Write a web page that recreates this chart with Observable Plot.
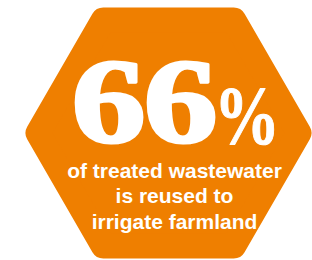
<!DOCTYPE html>
<html>
<head>
<meta charset="utf-8">
<script src="https://cdn.jsdelivr.net/npm/d3@7"></script>
<script src="https://cdn.jsdelivr.net/npm/@observablehq/plot@0.6"></script>
<style>
  html, body { margin: 0; padding: 0; background: #ffffff; }
  #chart svg { display: block; }
</style>
</head>
<body>
<div id="chart"></div>
<script>
// Data
const shareValue = [66];
const unitLabel = ["%"];
const captionLines = ["of treated wastewater", "is reused to", "irrigate farmland"];

const orange = "#ef7f00";

const chart = Plot.plot({
  width: 312,
  height: 260,
  marginLeft: 24,
  marginRight: 0,
  marginTop: 5,
  marginBottom: 0,
  x: {axis: null},
  y: {axis: null},
  marks: [
    Plot.dot(shareValue, {
      frameAnchor: "middle",
      symbol: "hexagon",
      r: 113,
      rotate: 90,
      fill: orange,
      stroke: orange,
      strokeWidth: 25,
      strokeLinejoin: "round"
    }),
    Plot.text(shareValue, {
      frameAnchor: "middle",
      text: (d) => String(d),
      dx: -25,
      dy: 9,
      lineAnchor: "bottom",
      textAnchor: "middle",
      fill: "white",
      stroke: "white",
      strokeWidth: 3,
      fontFamily: "Liberation Serif",
      fontWeight: "bold",
      fontSize: 120,
      className: "big-number"
    }),
    Plot.text(unitLabel, {
      frameAnchor: "middle",
      text: (d) => d,
      dx: 78.5,
      dy: 9.5,
      lineAnchor: "bottom",
      textAnchor: "middle",
      fill: "white",
      stroke: "white",
      strokeWidth: 1,
      fontFamily: "Liberation Serif",
      fontWeight: "bold",
      fontSize: 82,
      className: "big-unit"
    }),
    Plot.text([captionLines.join("\n")], {
      frameAnchor: "middle",
      text: (d) => d,
      dx: 6,
      dy: 95.5,
      lineAnchor: "bottom",
      lineHeight: 1.2143,
      textAnchor: "middle",
      fill: "white",
      fontFamily: "Liberation Sans",
      fontWeight: "bold",
      fontSize: 21
    })
  ]
});

function stretch(selector, sx, spacing) {
  chart.querySelectorAll(selector).forEach((t) => {
    const tr = t.getAttribute("transform") || "";
    t.setAttribute("transform", tr + ` scale(${sx},1)`);
    if (spacing) t.style.letterSpacing = spacing;
  });
}
stretch(".big-number text", 1.24, "-2px");
stretch(".big-unit text", 0.8);

document.getElementById("chart").appendChild(chart);
</script>
</body>
</html>
